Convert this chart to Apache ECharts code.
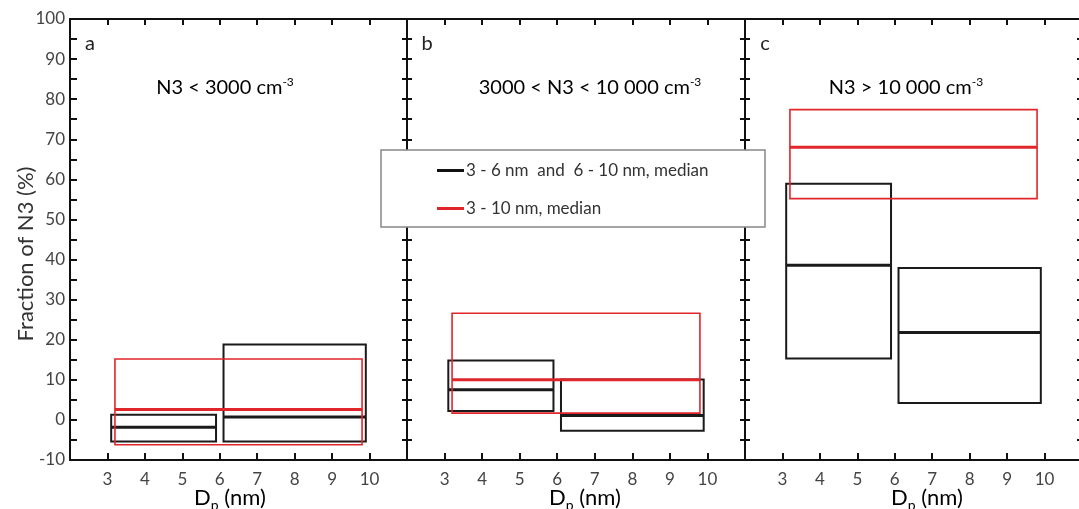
<!DOCTYPE html>
<html>
<head>
<meta charset="utf-8">
<script src="https://cdn.jsdelivr.net/npm/echarts@6/dist/echarts.min.js"></script>
<style>
  html, body { margin: 0; padding: 0; background: #fff; overflow: hidden; }
  #chart { width: 1085px; height: 509px; }
</style>
</head>
<body>
<div id="chart"></div>
<script>
// Size bins (nm)
const blackBins = [[3, 6], [6, 10]];
const redBin = [3, 10];

// Panel labels and N3 concentration classes
const panelLetters = ['a', 'b', 'c'];
const panelTitles = [
  ['N3 < 3000 cm', '-3'],
  ['3000 < N3 < 10 000 cm', '-3'],
  ['N3 > 10 000 cm', '-3']
];

// Fraction of N3 (%) per bin: [low, median, high]
const blackA = [[-5.4, -1.8, 1.3], [-5.4, 0.7, 18.8]];
const redA = [-6.2, 2.6, 15.2];
const blackB = [[2.2, 7.5, 14.8], [-2.7, 1.1, 10.1]];
const redB = [1.7, 10.0, 26.6];
const blackC = [[15.3, 38.6, 58.9], [4.2, 21.8, 37.9]];
const redC = [55.2, 68.0, 77.4];

// Axis ticks
const xTickLabels = [3, 4, 5, 6, 7, 8, 9, 10];
const yTickLabels = [-10, 0, 10, 20, 30, 40, 50, 60, 70, 80, 90, 100];

const blackName = '3 - 6 nm  and  6 - 10 nm, median';
const redName = '3 - 10 nm, median';
const FONT = 'Lato, "Open Sans", sans-serif';

const panels = [
  { black: blackA, red: redA },
  { black: blackB, red: redB },
  { black: blackC, red: redC }
];

const gridLeft = [70, 407, 745];
const gridWidth = [337, 338, 338];

// fresh objects per axis so nothing is shared between axis options
const lineStyle = () => ({ show: true, onZero: false, lineStyle: { color: '#111', width: 2 } });
const tickStyle = (len) => ({ show: true, inside: true, length: len, lineStyle: { color: '#111', width: 2 } });
const minorStyle = (len) => ({ show: true, splitNumber: 2, length: len, lineStyle: { color: '#111', width: 2 } });

const grids = [], xAxes = [], yAxes = [], series = [];

panels.forEach((p, i) => {
  grids.push({ left: gridLeft[i], top: 19, width: gridWidth[i], height: 441 });

  xAxes.push({
    gridIndex: i, type: 'value', min: 2, max: 11, interval: 1, position: 'bottom',
    axisLine: lineStyle(),
    axisTick: tickStyle(7),
    splitLine: { show: false },
    axisLabel: {
      show: true, color: '#444', fontSize: 17, fontFamily: FONT, margin: 11,
      formatter: v => xTickLabels.indexOf(v) >= 0 ? String(v) : ''
    }
  });
  xAxes.push({
    gridIndex: i, type: 'value', min: 2, max: 11, interval: 1, position: 'top',
    axisLine: lineStyle(),
    axisTick: tickStyle(6),
    splitLine: { show: false },
    axisLabel: { show: false }
  });

  // outer left axis has ticks on the inside only; shared dividers get ticks on both sides
  const leftLen = i === 0 ? 7 : 5;
  yAxes.push({
    gridIndex: i, type: 'value', min: -10, max: 100, interval: 10, position: 'left',
    axisLine: lineStyle(),
    axisTick: tickStyle(leftLen),
    minorTick: minorStyle(leftLen),
    splitLine: { show: false },
    axisLabel: {
      show: i === 0, color: '#444', fontSize: 17, fontFamily: FONT, margin: 5,
      formatter: v => yTickLabels.indexOf(v) >= 0 ? String(v) : ''
    }
  });
  yAxes.push({
    gridIndex: i, type: 'value', min: -10, max: 100, interval: 10, position: 'right',
    axisLine: lineStyle(),
    axisTick: tickStyle(5),
    minorTick: minorStyle(5),
    splitLine: { show: false },
    axisLabel: { show: false }
  });

  // box rows: [x0, x1, low, median, high]
  const blackRows = p.black.map((v, k) => [blackBins[k][0] + 0.1, blackBins[k][1] - 0.1, v[0], v[1], v[2]]);
  const redRows = [[redBin[0] + 0.2, redBin[1] - 0.2, p.red[0], p.red[1], p.red[2]]];

  const makeBoxes = (color, boxWidth, medWidth) => function (params, api) {
    const x0 = api.value(0), x1 = api.value(1);
    const lo = api.value(2), med = api.value(3), hi = api.value(4);
    const tl = api.coord([x0, hi]);
    const br = api.coord([x1, lo]);
    const ml = api.coord([x0, med]);
    const mr = api.coord([x1, med]);
    return {
      type: 'group',
      children: [
        {
          type: 'rect',
          shape: { x: tl[0], y: tl[1], width: br[0] - tl[0], height: br[1] - tl[1] },
          style: { fill: null, stroke: color, lineWidth: boxWidth }
        },
        {
          type: 'line',
          shape: { x1: ml[0], y1: ml[1], x2: mr[0], y2: mr[1] },
          style: { stroke: color, lineWidth: medWidth }
        }
      ]
    };
  };

  series.push({
    name: blackName, type: 'custom', xAxisIndex: 2 * i, yAxisIndex: 2 * i,
    itemStyle: { color: '#111' }, z: 3, clip: false,
    renderItem: makeBoxes('#1a1a1a', 2, 3),
    data: blackRows
  });
  series.push({
    name: redName, type: 'custom', xAxisIndex: 2 * i, yAxisIndex: 2 * i,
    itemStyle: { color: '#e0262a' }, z: 4, clip: false,
    renderItem: makeBoxes('#e0262a', 1.6, 3),
    data: redRows
  });
});

const letterX = [90, 427, 765];
const titleX = [225, 590, 906];
const nameX = [230, 585, 927];

const graphics = [];
panels.forEach((p, i) => {
  graphics.push({
    type: 'text', x: letterX[i], y: 44, z: 10,
    style: { text: panelLetters[i], fill: '#222', font: '20px ' + FONT, align: 'center', verticalAlign: 'middle' }
  });
  graphics.push({
    type: 'text', x: titleX[i], y: 88, z: 10,
    style: {
      text: '{t|' + panelTitles[i][0] + '}{s|' + panelTitles[i][1] + '}',
      align: 'center', verticalAlign: 'middle',
      rich: {
        t: { fontSize: 20, fontFamily: FONT, color: '#222' },
        s: { fontSize: 12, fontFamily: FONT, color: '#222', padding: [0, 0, 12, 0] }
      }
    }
  });
  graphics.push({
    type: 'text', x: nameX[i], y: 498, z: 10,
    style: {
      text: '{t|D}{s|p}{t| (nm)}',
      align: 'center', verticalAlign: 'middle',
      rich: {
        t: { fontSize: 22, fontFamily: FONT, color: '#333' },
        s: { fontSize: 14, fontFamily: FONT, color: '#333', padding: [14, 0, 0, 0] }
      }
    }
  });
});

graphics.push({
  type: 'text', x: 26, y: 254, rotation: Math.PI / 2, z: 10,
  style: {
    text: 'Fraction of N3 (%)', fill: '#333', font: '22px ' + FONT,
    align: 'center', verticalAlign: 'middle'
  }
});

// legend frame
graphics.push({
  type: 'rect', z: 20,
  shape: { x: 381, y: 150, width: 384, height: 77 },
  style: { fill: '#fff', stroke: '#888', lineWidth: 1.5 }
});

const chart = echarts.init(document.getElementById('chart'), null, { renderer: 'canvas' });
chart.setOption({
  animation: false,
  backgroundColor: '#fff',
  grid: grids,
  xAxis: xAxes,
  yAxis: yAxes,
  series: series,
  graphic: graphics,
  legend: {
    data: [blackName, redName],
    orient: 'vertical',
    left: 437, top: 162,
    itemWidth: 27, itemHeight: 3, itemGap: 21,
    icon: 'rect',
    padding: 0,
    z: 30,
    selectedMode: false,
    textStyle: { fontSize: 17, fontFamily: FONT, color: '#333', padding: [0, 0, 0, -3] }
  }
});
</script>
</body>
</html>
